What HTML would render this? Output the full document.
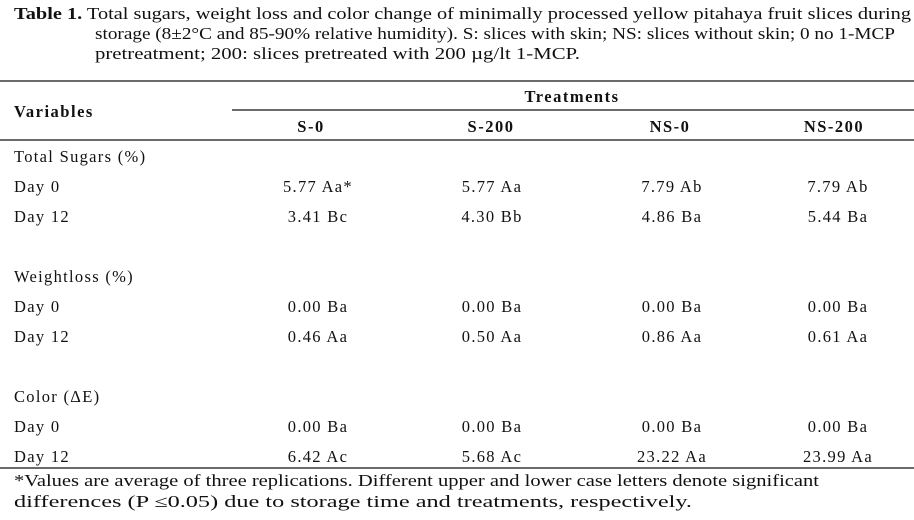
<!DOCTYPE html>
<html><head><meta charset="utf-8"><style>
html,body{margin:0;padding:0;background:#fff;}
svg{display:block;font-family:"Liberation Serif",serif;fill:#111;}
.b{font-weight:bold;font-family:"Liberation Serif",serif;}
</style></head><body>
<svg width="914" height="520" viewBox="0 0 914 520">
<g font-size="16.5">
<text x="14" y="19" textLength="897" lengthAdjust="spacingAndGlyphs"><tspan class="b">Table 1.</tspan> Total sugars, weight loss and color change of minimally processed yellow pitahaya fruit slices during</text>
<text x="95" y="39" textLength="800" lengthAdjust="spacingAndGlyphs">storage (8±2°C and 85-90% relative humidity). S: slices with skin; NS: slices without skin; 0 no 1-MCP</text>
<text x="95" y="59" textLength="485" lengthAdjust="spacingAndGlyphs">pretreatment; 200: slices pretreated with 200 µg/lt 1-MCP.</text>
</g>
<line x1="0" y1="81" x2="914" y2="81" stroke="#111" stroke-width="1.3"/>
<line x1="232" y1="110" x2="914" y2="110" stroke="#111" stroke-width="1.3"/>
<line x1="0" y1="140" x2="914" y2="140" stroke="#111" stroke-width="1.3"/>
<line x1="0" y1="468" x2="914" y2="468" stroke="#111" stroke-width="1.3"/>
<g font-size="16.5" class="b" letter-spacing="1.5">
<text x="14" y="117" class="b">Variables</text>
<text x="572" y="102" text-anchor="middle" class="b">Treatments</text>
<text x="311" y="132" text-anchor="middle" class="b">S-0</text>
<text x="491" y="132" text-anchor="middle" class="b">S-200</text>
<text x="670" y="132" text-anchor="middle" class="b">NS-0</text>
<text x="834" y="132" text-anchor="middle" class="b">NS-200</text>
</g>
<g id="body" font-size="16.5" letter-spacing="1.3"></g>
<g font-size="16.5">
<text x="14" y="486" textLength="805" lengthAdjust="spacingAndGlyphs">*Values are average of three replications. Different upper and lower case letters denote significant</text>
<text x="14" y="507" textLength="678" lengthAdjust="spacingAndGlyphs">differences (P ≤0.05) due to storage time and treatments, respectively.</text>
</g>
</svg>
<script>
const labels=["Total Sugars (%)","Day 0","Day 12","","Weightloss (%)","Day 0","Day 12","","Color (ΔE)","Day 0","Day 12"];
const colS0=["","5.77 Aa*","3.41 Bc","","","0.00 Ba","0.46 Aa","","","0.00 Ba","6.42 Ac"];
const colS200=["","5.77 Aa","4.30 Bb","","","0.00 Ba","0.50 Aa","","","0.00 Ba","5.68 Ac"];
const colNS0=["","7.79 Ab","4.86 Ba","","","0.00 Ba","0.86 Aa","","","0.00 Ba","23.22 Aa"];
const colNS200=["","7.79 Ab","5.44 Ba","","","0.00 Ba","0.61 Aa","","","0.00 Ba","23.99 Aa"];
const g=document.getElementById('body');
const ns="http://www.w3.org/2000/svg";
const cols=[colS0,colS200,colNS0,colNS200];
const cx=[318,492,672,838];
labels.forEach((l,i)=>{
  const y=162+i*30;
  if(l){
    const t=document.createElementNS(ns,'text');
    t.setAttribute('x',14);t.setAttribute('y',y);t.textContent=l;
    
    
    g.appendChild(t);
  }
  cols.forEach((c,j)=>{
    if(!c[i])return;
    const t=document.createElementNS(ns,'text');
    t.setAttribute('x',cx[j]);t.setAttribute('y',y);t.setAttribute('text-anchor','middle');
    t.textContent=c[i];
    
    
    g.appendChild(t);
  });
});
</script>
</body></html>
